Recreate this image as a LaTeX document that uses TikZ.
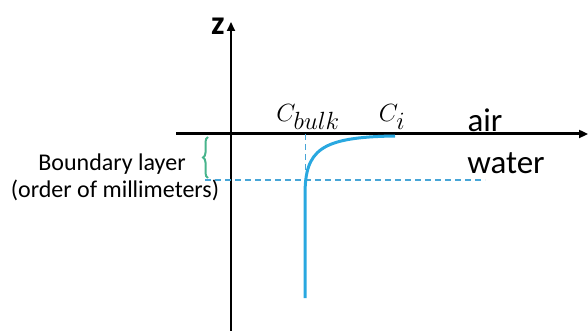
\documentclass[tikz,border=0pt]{standalone}
\usepackage{amsmath}
\usepackage{fontspec}
\setmainfont{Carlito}
\usepackage{tikz}
\usetikzlibrary{arrows.meta, positioning, decorations.pathreplacing}

\definecolor{conc}{RGB}{41,168,224}
\definecolor{dashblue}{RGB}{70,165,215}
\definecolor{bracegreen}{RGB}{72,180,140}

\begin{document}
\begin{tikzpicture}[
  x=1pt, y=-1pt,
  >={Triangle[length=9pt, width=8pt]},
  axis/.style={draw=black, line width=2pt},
  guide/.style={draw=dashblue, dashed, dash pattern=on 6pt off 4pt, line width=1.2pt},
  txt/.style={inner sep=0pt, font=\fontsize{24}{28}\selectfont},
  big/.style={inner sep=0pt, font=\fontsize{33}{36}\selectfont}
]
  \useasboundingbox (0,0) rectangle (588,331);

  % axes
  \coordinate (zbot) at (231,331);
  \coordinate (ztop) at (231,22);
  \coordinate (xleft) at (176,134);
  \coordinate (xright) at (588,134);
  \draw[axis, ->] (zbot) -- (ztop);
  \draw[axis, line width=3pt, ->] (xleft) -- (xright);
  \node[txt, font=\fontsize{34}{36}\bfseries] (zlab) at (218,26) {z};

  % guides
  \coordinate (bulktop) at (305,134);
  \coordinate (bulkbot) at (305,180);
  \coordinate (layl) at (205,180);
  \coordinate (layr) at (485,180);
  \draw[guide, line width=1pt] (bulktop) -- (bulkbot);
  \draw[guide] (layl) -- (layr);

  % concentration profile
  \coordinate (cbot) at (305,298);
  \coordinate (cbend) at (305,195);
  \coordinate (cint) at (395,136);
  \draw[conc, line width=3pt] (cbot) -- (cbend)
    .. controls (305,150) and (320,137) .. (cint);

  % labels
  \node[txt] (cbulk) at (308,117) {$C_{\textstyle bulk}$};
  \node[txt] (ci) at (392,117) {$C_{\textstyle i}$};
  \node[big] (air) at (485,120) {air};
  \node[big] (water) at (506,163) {water};

  % boundary layer
  \coordinate (brbot) at (208,178);
  \coordinate (brtop) at (208,137);
  \draw[bracegreen, line width=2pt, decorate,
        decoration={brace, amplitude=5pt}] (brbot) -- (brtop);
  \node[txt] (bl) at (112,164) {Boundary layer};
  \node[txt] (order) at (115,190) {(order of millimeters)};
\end{tikzpicture}
\end{document}
